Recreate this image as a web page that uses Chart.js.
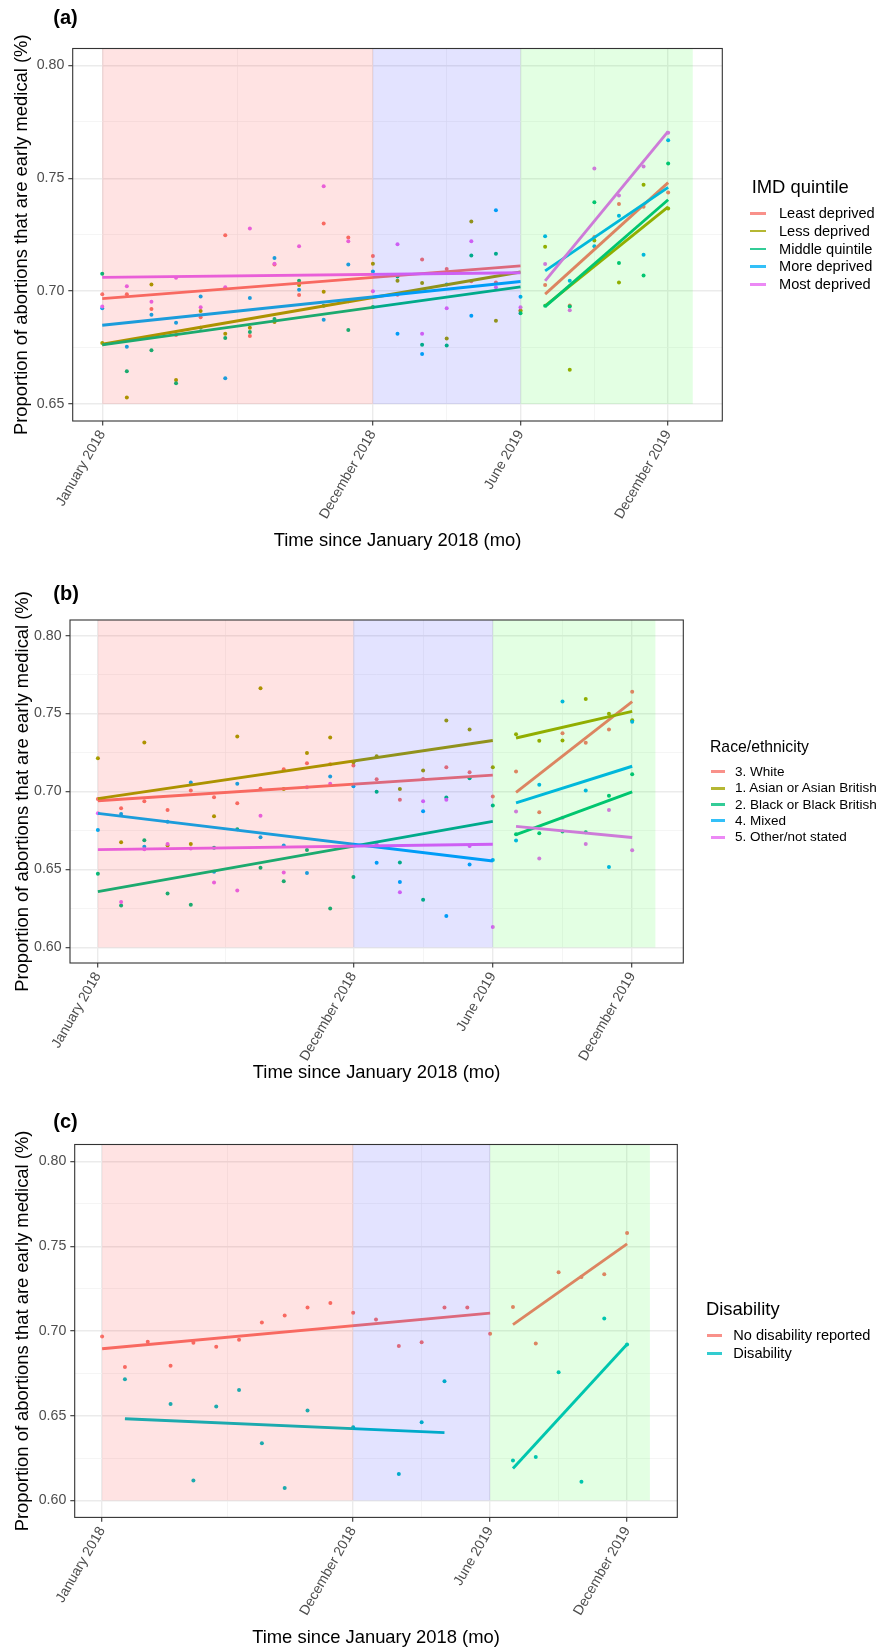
<!DOCTYPE html>
<html><head><meta charset="utf-8">
<script src="https://cdn.jsdelivr.net/npm/chart.js@4.4.1/dist/chart.umd.min.js"></script>
<style>
html,body{margin:0;padding:0;background:#fff;}
body{width:880px;height:1650px;position:relative;overflow:hidden;font-family:"Liberation Sans",Arial,Helvetica,sans-serif;}
canvas{position:absolute;left:0;}
.lg{position:absolute;white-space:nowrap;color:#000;line-height:1;}
.key{position:absolute;}
</style></head><body>
<canvas id="cA" width="880" height="560" style="top:0px;width:880px;height:560px"></canvas>
<canvas id="cB" width="880" height="530" style="top:560px;width:880px;height:530px"></canvas>
<canvas id="cC" width="880" height="550" style="top:1100px;width:880px;height:550px"></canvas>
<script>
// ---------------- DATA ----------------
const monthIndex = [0,1,2,3,4,5,6,7,8,9,10,11,12,13,14,15,16,17,18,19,20,21,22,23];
const tickMonths = [0,11,17,23];
const tickLabels = ["January 2018","December 2018","June 2019","December 2019"];
const periodStart = [0,11,17];
const periodEnd = [11,17,24];
const xTitle = "Time since January 2018 (mo)";
const yTitle = "Proportion of abortions that are early medical (%)";
const yTicksA = [0.65,0.70,0.75,0.80];
const yTicksBC = [0.60,0.65,0.70,0.75,0.80];

// (a) IMD quintile
const imdTitle = "IMD quintile";
const imdGroups = ["Least deprived","Less deprived","Middle quintile","More deprived","Most deprived"];
const imdLeast  = [0.6986,0.6986,0.6921,0.6806,0.6885,0.7248,0.6801,0.7118,0.6983,0.7300,0.7238,0.7156,0.6984,0.7140,0.7098,0.7044,0.7039,0.6916,0.7027,0.6937,0.7240,0.7386,0.7374,0.7437];
const imdLess   = [0.6770,0.6529,0.7030,0.6607,0.6912,0.6812,0.6838,0.6864,0.7027,0.6997,0.6955,0.7121,0.7046,0.7036,0.6790,0.7309,0.6869,0.6912,0.7197,0.6652,0.7224,0.7039,0.7471,0.7366];
const imdMiddle = [0.7077,0.6645,0.6738,0.6592,0.6838,0.6793,0.6819,0.6877,0.7046,0.6935,0.6828,0.6930,0.7065,0.6763,0.6759,0.7158,0.7166,0.6902,0.6935,0.6932,0.7394,0.7125,0.7069,0.7566];
const imdMore   = [0.6924,0.6754,0.6896,0.6860,0.6976,0.6614,0.6970,0.7147,0.7006,0.6874,0.7118,0.7087,0.6812,0.6722,0.7030,0.6891,0.7358,0.6975,0.7243,0.7046,0.7199,0.7334,0.7161,0.7669];
const imdMost   = [0.6932,0.7022,0.6953,0.7060,0.6929,0.7017,0.7278,0.7121,0.7199,0.7465,0.7221,0.7000,0.7208,0.6812,0.6924,0.7221,0.7017,0.6929,0.7120,0.6916,0.7544,0.7424,0.7552,0.7702];
const imdFitX   = [[0,17],[18,23]];
const imdFitPre  = [[0.6967,0.7112],[0.6765,0.7085],[0.6762,0.7019],[0.6849,0.7043],[0.7061,0.7082]];
const imdFitPost = [[0.6987,0.7481],[0.6935,0.7374],[0.6932,0.7405],[0.7090,0.7460],[0.7046,0.7708]];

// (b) Race/ethnicity
const raceTitle = "Race/ethnicity";
const raceGroups = ["3. White","1. Asian or Asian British","2. Black or Black British","4. Mixed","5. Other/not stated"];
const raceWhite = [0.6952,0.6893,0.6938,0.6881,0.7007,0.6963,0.6925,0.7018,0.7142,0.7181,0.7174,0.7167,0.7078,0.6947,0.7080,0.7155,0.7123,0.6968,0.7128,0.6867,0.7373,0.7313,0.7398,0.7640];
const raceAsian = [0.7213,0.6675,0.7315,0.6653,0.6664,0.6842,0.7352,0.7663,0.7016,0.7247,0.7347,0.7187,0.7226,0.7016,0.7135,0.7455,0.7398,0.7155,0.7368,0.7325,0.7327,0.7594,0.7498,0.7457];
const raceBlack = [0.6472,0.6269,0.6687,0.6346,0.6273,0.6640,0.6758,0.6511,0.6424,0.6625,0.6250,0.6451,0.6998,0.6545,0.6305,0.6961,0.7085,0.6911,0.6726,0.6733,0.6744,0.6739,0.6973,0.7110];
const raceMixed = [0.6753,0.6855,0.6646,0.6806,0.7057,0.6486,0.7050,0.6707,0.6653,0.6477,0.7096,0.7034,0.6543,0.6419,0.6874,0.6202,0.6531,0.6561,0.6685,0.7043,0.7578,0.7007,0.6515,0.7448];
const raceOther = [0.6860,0.6291,0.6630,0.6664,0.6634,0.6417,0.6365,0.6845,0.6481,0.7027,0.7050,0.6657,0.6660,0.6353,0.6938,0.6947,0.6650,0.6131,0.6872,0.6570,0.6831,0.6664,0.6881,0.6623];
const raceFitX   = [[0,17],[18,23]];
const raceFitPre  = [[0.6941,0.7105],[0.6954,0.7327],[0.6358,0.6808],[0.6860,0.6554],[0.6627,0.6662]];
const raceFitPost = [[0.6995,0.7576],[0.7343,0.7514],[0.6723,0.6998],[0.6927,0.7162],[0.6776,0.6705]];

// (c) Disability
const disTitle = "Disability";
const disGroups = ["No disability reported","Disability"];
const disNone = [0.6967,0.6787,0.6936,0.6794,0.6930,0.6907,0.6948,0.7050,0.7091,0.7138,0.7165,0.7107,0.7068,0.6911,0.6934,0.7138,0.7138,0.6983,0.7142,0.6926,0.7347,0.7318,0.7334,0.7578];
const disYes  = [null,0.6715,null,0.6569,0.6117,0.6554,0.6651,0.6337,0.6073,0.6531,null,0.6432,null,0.6156,0.6461,0.6703,null,null,0.6236,0.6257,0.6756,0.6110,0.7074,0.6920];
const disFitPreX  = [[0,17],[1,15]];
const disFitPostX = [[18,23],[18,23]];
const disFitPre  = [[0.6895,0.7105],[0.6482,0.6400]];
const disFitPost = [[0.7037,0.7514],[0.6189,0.6922]];

// ---------------- STYLE ----------------
const FONT = '"Liberation Sans", Arial, Helvetica, sans-serif';
const COLORS5 = ['#F8766D','#A3A500','#00BF7D','#00B0F6','#E76BF3'];
const COLORS2 = ['#F8766D','#00BFC4'];
const SHADES = ['rgba(255,0,0,0.11)','rgba(0,0,255,0.11)','rgba(0,255,0,0.11)'];

function withMinors(major){
  const out=[];
  for(let i=0;i<major.length;i++){
    out.push({value:major[i],minor:false});
    if(i<major.length-1) out.push({value:(major[i]+major[i+1])/2,minor:true});
  }
  return out;
}

function makePanel(cfg){
  const canvas=document.getElementById(cfg.id);
  const n=cfg.series.length;
  const datasets=[];
  cfg.series.forEach((vals,i)=>{
    const pts=[];
    monthIndex.forEach((m,k)=>{ if(vals[k]!=null) pts.push({x:m,y:vals[k]}); });
    datasets.push({data:pts,backgroundColor:cfg.colors[i],borderWidth:0,pointRadius:2,pointHoverRadius:2,showLine:false,order:200+(n-i)});
  });
  cfg.fits.forEach(f=>{
    datasets.push({data:[{x:f.x[0],y:f.y[0]},{x:f.x[1],y:f.y[1]}],showLine:true,borderColor:cfg.colors[f.i],borderWidth:2.9,pointRadius:0,pointHoverRadius:0,borderCapStyle:'butt',order:100+(n-f.i)});
  });
  const xTickList=withMinors(tickMonths).sort((a,b)=>a.value-b.value);
  const yTickList=withMinors(cfg.yTicks);
  const gridOpts={
    color:c=>(c.tick&&c.tick.minor)?'#F2F2F2':'#EBEBEB',
    lineWidth:c=>(c.tick&&c.tick.minor)?0.8:1.4,
    tickColor:c=>(c.tick&&c.tick.minor)?'rgba(0,0,0,0)':'#333333',
    tickWidth:1.1,
    tickLength:4.4,
    drawTicks:true
  };
  const shade={id:'shade',afterDatasetsDraw(chart){
    const {ctx,chartArea:a,scales:{x,y}}=chart;
    ctx.save();
    ctx.beginPath();ctx.rect(a.left,a.top,a.right-a.left,a.bottom-a.top);ctx.clip();
    for(let p=0;p<periodStart.length;p++){
      const x0=x.getPixelForValue(periodStart[p]),x1=x.getPixelForValue(periodEnd[p]);
      const y0=y.getPixelForValue(cfg.yTicks[0]);
      ctx.fillStyle=SHADES[p];
      ctx.fillRect(x0,a.top,x1-x0,y0-a.top);
    }
    ctx.restore();
    ctx.save();
    ctx.strokeStyle='#333333';ctx.lineWidth=1.1;
    ctx.strokeRect(a.left,a.top,a.right-a.left,a.bottom-a.top);
    ctx.fillStyle='#000';ctx.font='bold 20px '+FONT;ctx.textBaseline='middle';ctx.textAlign='left';
    ctx.fillText(cfg.tag,cfg.tagX,cfg.tagY);
    ctx.restore();
  }};
  new Chart(canvas,{
    type:'scatter',
    data:{datasets},
    plugins:[shade],
    options:{
      responsive:false,animation:false,devicePixelRatio:1,events:[],
      layout:{padding:{top:cfg.top,left:0,right:880-cfg.right,bottom:0}},
      plugins:{legend:{display:false},tooltip:{enabled:false},title:{display:false}},
      scales:{
        x:{type:'linear',min:-1.2,max:25.2,
          afterBuildTicks:s=>{s.ticks=xTickList.map(t=>({value:t.value,minor:t.minor}));},
          afterFit:s=>{s.height=cfg.canvasH-cfg.bottom;},
          ticks:{autoSkip:false,minRotation:60,maxRotation:60,padding:2,color:'#4D4D4D',font:{family:FONT,size:14},
            callback:(v,i,t)=>{const k=tickMonths.indexOf(v);return k>=0?tickLabels[k]:'';}},
          grid:gridOpts,border:{display:false},
          title:{display:true,text:xTitle,color:'#000',font:{family:FONT,size:18.4},padding:{top:0,bottom:cfg.xTitlePad}}
        },
        y:{type:'linear',min:cfg.yMin,max:cfg.yMax,
          afterBuildTicks:s=>{s.ticks=yTickList.map(t=>({value:t.value,minor:t.minor}));},
          afterFit:s=>{s.width=cfg.left;},
          ticks:{autoSkip:false,padding:4,color:'#4D4D4D',font:{family:FONT,size:14.2},
            callback:(v,i,t)=>t[i]&&t[i].minor?'':Number(v).toFixed(2)},
          grid:gridOpts,border:{display:false},
          title:{display:true,text:yTitle,color:'#000',font:{family:FONT,size:18.4},padding:{top:cfg.yTitlePad,bottom:0}}
        }
      }
    }
  });
  // legend (HTML text)
  const lg=cfg.legend;
  const t=document.createElement('div');
  t.className='lg';t.textContent=cfg.legendTitle;
  t.style.left=lg.titleX+'px';t.style.top=(lg.titleY-lg.titleSize*0.5)+'px';t.style.fontSize=lg.titleSize+'px';
  document.body.appendChild(t);
  cfg.groups.forEach((g,i)=>{
    const cy=lg.y0+i*lg.dy;
    const k=document.createElement('div');
    k.className='key';
    k.style.left=lg.keyX+'px';k.style.width=lg.keyW+'px';k.style.top=(cy-1.4)+'px';k.style.height='2.8px';
    k.style.background=cfg.colors[i];k.style.opacity='0.8';
    document.body.appendChild(k);
    const d=document.createElement('div');
    d.className='lg';d.textContent=g;
    d.style.left=lg.textX+'px';d.style.top=(cy-lg.textSize*0.5)+'px';d.style.fontSize=lg.textSize+'px';
    document.body.appendChild(d);
  });
}

function fitsFrom(pre,post,preX,postX){
  const out=[];
  pre.forEach((y,i)=>out.push({i,x:preX[i],y}));
  post.forEach((y,i)=>out.push({i,x:postX[i],y}));
  return out;
}
function rep(x,n){return Array.from({length:n},()=>x);}

makePanel({id:'cA',canvasH:560,top:48.5,bottom:421,left:72.7,right:722.3,
  yMin:0.6425,yMax:0.8075,yTicks:yTicksA,xTitlePad:8,yTitlePad:10.7,
  tag:'(a)',tagX:53.3,tagY:18,
  series:[imdLeast,imdLess,imdMiddle,imdMore,imdMost],colors:COLORS5,
  fits:fitsFrom(imdFitPre,imdFitPost,rep(imdFitX[0],5),rep(imdFitX[1],5)),
  groups:imdGroups,legendTitle:imdTitle,
  legend:{titleX:751.7,titleY:186.8,titleSize:18.4,y0:213.2,dy:17.85,keyX:750,keyW:16,textX:779,textSize:14.6}
});
makePanel({id:'cB',canvasH:530,top:60,bottom:403,left:70,right:683.3,
  yMin:0.59,yMax:0.81,yTicks:yTicksBC,xTitlePad:6.5,yTitlePad:11.5,
  tag:'(b)',tagX:53.3,tagY:34,
  series:[raceWhite,raceAsian,raceBlack,raceMixed,raceOther],colors:COLORS5,
  fits:fitsFrom(raceFitPre,raceFitPost,rep(raceFitX[0],5),rep(raceFitX[1],5)),
  groups:raceGroups,legendTitle:raceTitle,
  legend:{titleX:710,titleY:746.8,titleSize:15.75,y0:771.8,dy:16.33,keyX:711,keyW:13.5,textX:735,textSize:13.5}
});
makePanel({id:'cC',canvasH:550,top:44.5,bottom:417.4,left:74.7,right:677.3,
  yMin:0.59,yMax:0.81,yTicks:yTicksBC,xTitlePad:0.6,yTitlePad:12.3,
  tag:'(c)',tagX:53.3,tagY:22.8,
  series:[disNone,disYes],colors:COLORS2,
  fits:fitsFrom(disFitPre,disFitPost,disFitPreX,disFitPostX),
  groups:disGroups,legendTitle:disTitle,
  legend:{titleX:706,titleY:1309.4,titleSize:18.4,y0:1335.7,dy:17.5,keyX:706.7,keyW:15,textX:733.3,textSize:14.6}
});
</script>
</body></html>
